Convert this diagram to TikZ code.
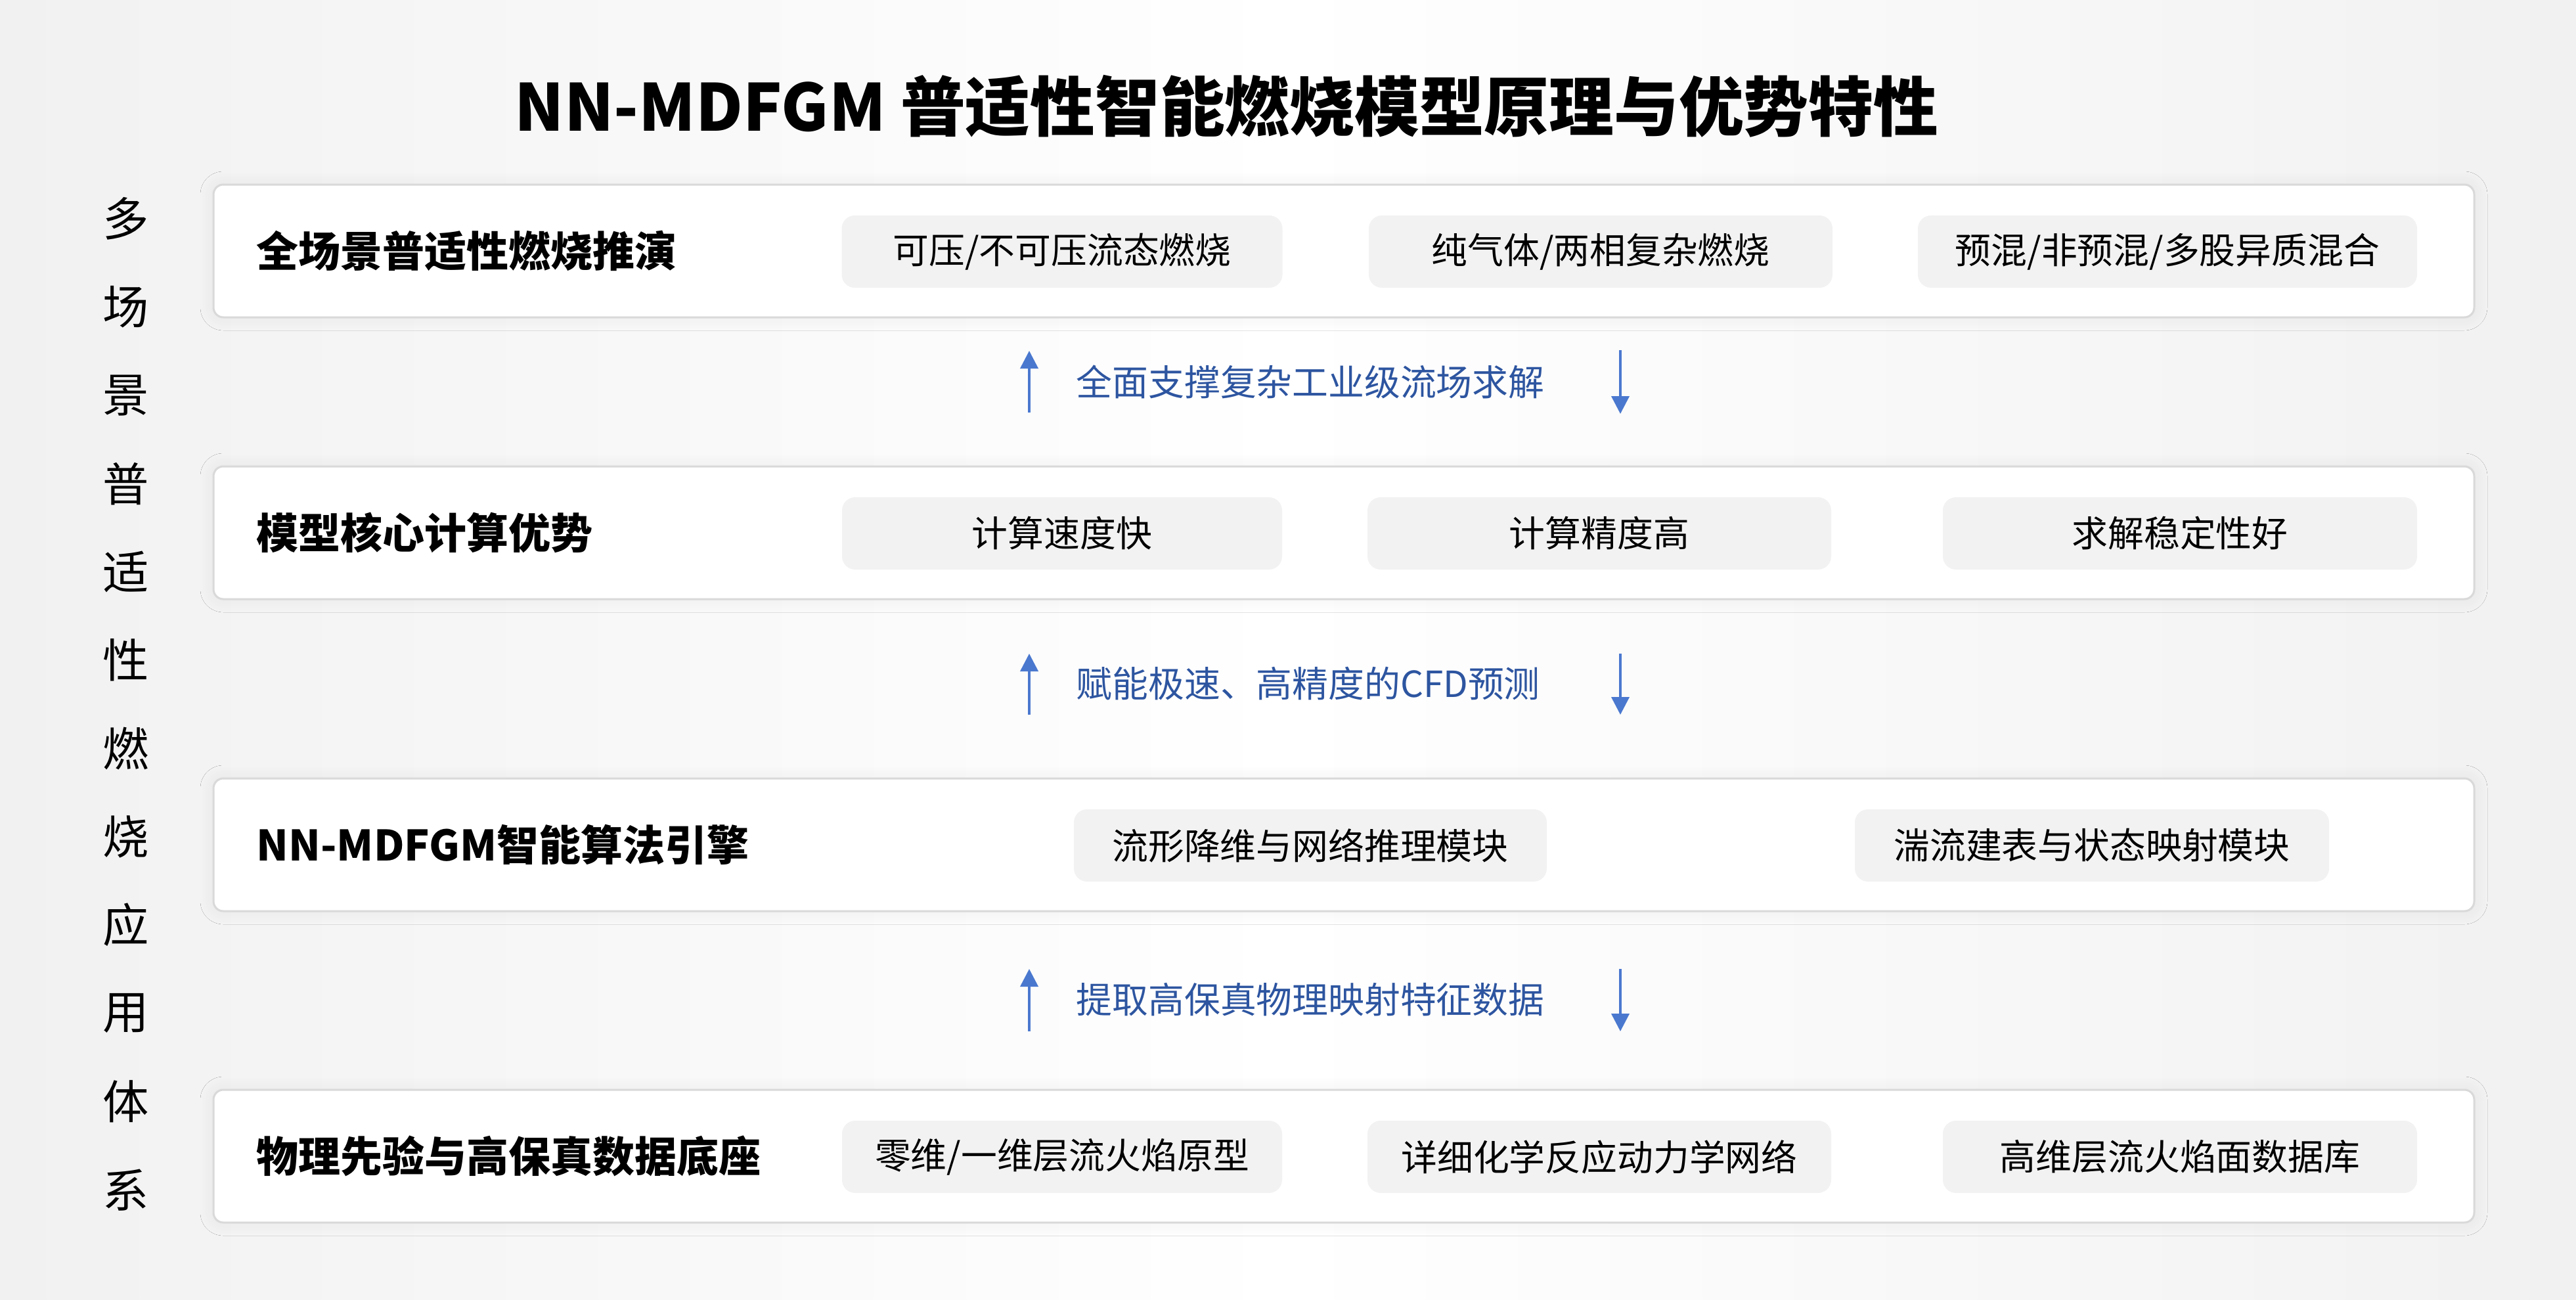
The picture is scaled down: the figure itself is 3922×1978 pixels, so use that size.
\documentclass[tikz,border=0pt]{standalone}
\usepackage{fontspec}
\setmainfont{Noto Sans CJK SC}
\usepackage{xcolor}
\usepackage{tikz}
\usetikzlibrary{arrows.meta,positioning,shadows.blur}

\definecolor{panelline}{HTML}{D9D9D9}
\definecolor{pillfill}{HTML}{F2F2F2}
\definecolor{arrowblue}{HTML}{4A78CF}
\definecolor{labelblue}{HTML}{2D55A0}
\definecolor{bgedge}{HTML}{F1F1F1}

\begin{document}
\begin{tikzpicture}[x=0.1mm, y=-0.1mm, >=Latex,
    panel/.style={draw=panelline, line width=0.85pt, fill=white, rounded corners=1.5mm,
        minimum width=344.2mm, minimum height=20.2mm, inner sep=0pt,
        blur shadow={shadow xshift=0pt, shadow yshift=0pt, shadow blur radius=2mm,
            shadow opacity=6, shadow blur steps=12}},
    pill/.style={fill=pillfill, rounded corners=2mm, minimum height=11mm, inner sep=0pt,
        font=\fontsize{15.6}{19}\selectfont},
    rowtitle/.style={anchor=west, inner sep=0pt, font=\fontsize{18.2}{22}\selectfont\bfseries},
    flowlabel/.style={anchor=west, inner sep=0pt, text=labelblue, font=\fontsize{15.6}{19}\selectfont},
    flowarrow/.style={draw=arrowblue, line width=1.1pt, -{Triangle[width=2.7mm, length=2.7mm]}},
    sidechar/.style={inner sep=0pt, font=\fontsize{20}{24}\selectfont}]

        % Background
        \useasboundingbox (0,0) rectangle (3922,1978);
        \shade[left color=bgedge, right color=bgedge, middle color=white] (0,0) rectangle (3922,1978);

        % Title
        \node[anchor=west, inner sep=0pt, font=\fontsize{28.1}{33}\selectfont\bfseries] (title) at (783,162)
            {NN-MDFGM 普适性智能燃烧模型原理与优势特性};

        % Side label
        \foreach \c [count=\i from 0] in {多,场,景,普,适,性,燃,烧,应,用,体,系}
            \node[sidechar] (side\i) at (192, 333+134.4*\i) {\c};

        % Panels
        \node[panel] (scenePanel)  at (2046,382)  {};
        \node[panel] (corePanel)   at (2046,811)  {};
        \node[panel] (enginePanel) at (2046,1286) {};
        \node[panel] (basePanel)   at (2046,1760) {};

        % Row titles
        \node[rowtitle] (sceneTitle)  at (390,382)  {全场景普适性燃烧推演};
        \node[rowtitle] (coreTitle)   at (390,811)  {模型核心计算优势};
        \node[rowtitle] (engineTitle) at (390,1286) {NN-MDFGM智能算法引擎};
        \node[rowtitle] (baseTitle)   at (390,1760) {物理先验与高保真数据底座};

        % Pills
        \node[pill, minimum width=67.1mm] (scene1) at (1617,383) {可压/不可压流态燃烧};
        \node[pill, minimum width=70.6mm] (scene2) at (2437,383) {纯气体/两相复杂燃烧};
        \node[pill, minimum width=76.0mm] (scene3) at (3300,383) {预混/非预混/多股异质混合};

        \node[pill, minimum width=67.0mm] (core1) at (1617,812) {计算速度快};
        \node[pill, minimum width=70.6mm] (core2) at (2435,812) {计算精度高};
        \node[pill, minimum width=72.2mm] (core3) at (3319,812) {求解稳定性好};

        \node[pill, minimum width=72.0mm] (engine1) at (1995,1287) {流形降维与网络推理模块};
        \node[pill, minimum width=72.2mm] (engine2) at (3185,1287) {湍流建表与状态映射模块};

        \node[pill, minimum width=67.0mm] (base1) at (1617,1761) {零维/一维层流火焰原型};
        \node[pill, minimum width=70.6mm] (base2) at (2435,1761) {详细化学反应动力学网络};
        \node[pill, minimum width=72.2mm] (base3) at (3319,1761) {高维层流火焰面数据库};

        % Arrow ends
        \coordinate (upA0) at (1567,628);   \coordinate (upA1) at (1567,534);
        \coordinate (dnA0) at (2467,533);   \coordinate (dnA1) at (2467,630);
        \coordinate (upB0) at (1567,1088);  \coordinate (upB1) at (1567,995);
        \coordinate (dnB0) at (2467,995);   \coordinate (dnB1) at (2467,1088);
        \coordinate (upC0) at (1567,1570);  \coordinate (upC1) at (1567,1475);
        \coordinate (dnC0) at (2467,1475);  \coordinate (dnC1) at (2467,1570);

        % Arrows
        \draw[flowarrow] (upA0) -- (upA1);
        \draw[flowarrow] (dnA0) -- (dnA1);
        \draw[flowarrow] (upB0) -- (upB1);
        \draw[flowarrow] (dnB0) -- (dnB1);
        \draw[flowarrow] (upC0) -- (upC1);
        \draw[flowarrow] (dnC0) -- (dnC1);

        % Arrow labels
        \node[flowlabel] (flowA) at (1638,581)  {全面支撑复杂工业级流场求解};
        \node[flowlabel] (flowB) at (1638,1041) {赋能极速、高精度的CFD预测};
        \node[flowlabel] (flowC) at (1638,1522) {提取高保真物理映射特征数据};

    \end{tikzpicture}
\end{document}
